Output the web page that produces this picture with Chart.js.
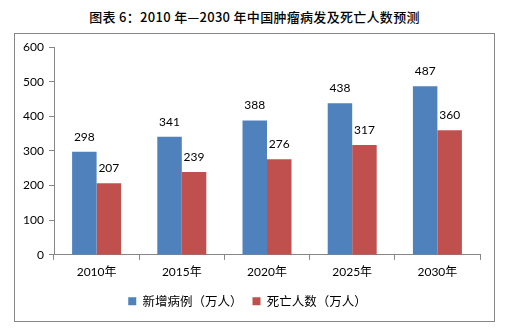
<!DOCTYPE html>
<html>
<head>
<meta charset="utf-8">
<script src="https://cdn.jsdelivr.net/npm/chart.js@4/dist/chart.umd.min.js"></script>
<style>
  body { margin: 0; background: #fff; width: 509px; height: 332px; position: relative; overflow: hidden; }
  #title {
    position: absolute; left: 0; top: 7px; width: 509px; text-align: center;
    font: 500 13px "Noto Sans CJK SC", sans-serif; color: #000; letter-spacing: 0.3px;
  }
  #box {
    position: absolute; left: 14px; top: 33px; width: 479px; height: 287px;
    border: 1px solid #868686;
  }
</style>
</head>
<body>
<div id="title">图表 6：2010 年—2030 年中国肿瘤病发及死亡人数预测</div>
<div id="box"><canvas id="chart" width="479" height="287"></canvas></div>
<script>
// Chart data
const years = ['2010年', '2015年', '2020年', '2025年', '2030年'];
const newCases = [298, 341, 388, 438, 487];
const deaths = [207, 239, 276, 317, 360];
const seriesNames = ['新增病例（万人）', '死亡人数（万人）'];
const yTicks = [0, 100, 200, 300, 400, 500, 600];

const numFont = '"Lato", "Noto Sans CJK SC", sans-serif';
const axisGray = '#868686';

// Draw value labels above each bar
const valueLabels = {
  id: 'valueLabels',
  afterDatasetsDraw(chart) {
    const ctx = chart.ctx;
    ctx.save();
    ctx.font = '12px ' + numFont;
    ctx.fillStyle = '#000';
    ctx.textAlign = 'center';
    ctx.textBaseline = 'middle';
    chart.data.datasets.forEach((ds, i) => {
      chart.getDatasetMeta(i).data.forEach((bar, j) => {
        ctx.fillText(ds.data[j], bar.x, bar.y - 15);
      });
    });
    ctx.restore();
  }
};

new Chart(document.getElementById('chart'), {
  type: 'bar',
  data: {
    labels: years,
    datasets: [
      { label: seriesNames[0], data: newCases, backgroundColor: '#4F81BD' },
      { label: seriesNames[1], data: deaths, backgroundColor: '#C0504D' }
    ]
  },
  options: {
    responsive: false,
    animation: false,
    layout: { padding: { left: 0, right: 14, top: 13, bottom: 3.6 } },
    datasets: { bar: { categoryPercentage: 0.575, barPercentage: 1 } },
    scales: {
      x: {
        grid: { drawOnChartArea: false, drawTicks: true, tickLength: 5, color: axisGray, offset: true },
        border: { color: axisGray },
        ticks: { color: '#000', padding: 5, font: { size: 12, family: numFont } },
        afterFit: (s) => { s.height = 30; }
      },
      y: {
        min: 0,
        max: 600,
        afterBuildTicks: (s) => { s.ticks = yTicks.map(v => ({ value: v })); },
        grid: { drawOnChartArea: false, drawTicks: true, tickLength: 5, color: axisGray },
        border: { color: axisGray },
        ticks: { color: '#000', padding: 5, font: { size: 12, family: numFont } },
        afterFit: (s) => { s.width = 39; }
      }
    },
    plugins: {
      legend: {
        position: 'bottom',
        labels: {
          boxWidth: 8,
          boxHeight: 8,
          padding: 10,
          color: '#000',
          font: { size: 12.5, family: '"Noto Sans CJK SC", sans-serif' }
        }
      },
      tooltip: { enabled: false }
    }
  },
  plugins: [valueLabels]
});
</script>
</body>
</html>
